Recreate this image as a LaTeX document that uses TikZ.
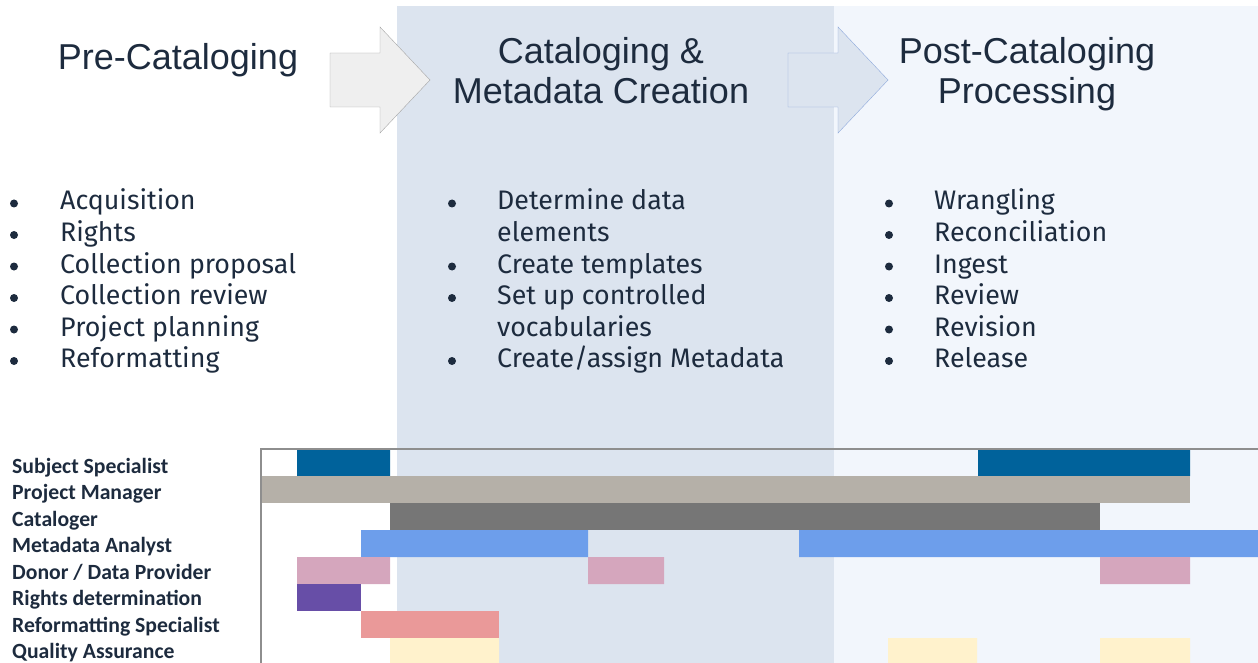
\documentclass[tikz,border=0pt]{standalone}
\usepackage{fontspec}
\setmainfont{Fira Sans}
\newfontfamily\headfont{Liberation Sans}
\newfontfamily\rolefont{Carlito}
\usetikzlibrary{positioning}
\definecolor{Ink}{RGB}{29, 43, 62}
\definecolor{MidPanel}{RGB}{220, 228, 239}
\definecolor{PostPanel}{RGB}{242, 246, 252}
\definecolor{ArrowFill}{RGB}{239, 239, 239}
\definecolor{ArrowLine}{RGB}{166, 166, 166}
\definecolor{ArrowBlue}{RGB}{143, 170, 220}
\definecolor{FrameLine}{RGB}{142, 142, 142}
\definecolor{SpecBlue}{RGB}{0, 98, 155}
\definecolor{ManagerTaupe}{RGB}{181, 176, 168}
\definecolor{CatGrey}{RGB}{118, 118, 118}
\definecolor{AnalystBlue}{RGB}{109, 158, 235}
\definecolor{DonorPink}{RGB}{213, 166, 189}
\definecolor{RightsPurple}{RGB}{103, 78, 167}
\definecolor{ReformRed}{RGB}{234, 153, 153}
\definecolor{QAYellow}{RGB}{255, 242, 204}

\begin{document}
\begin{tikzpicture}[x=1pt, y=-1pt,
    head/.style={anchor=base, align=center, inner sep=0pt, text=Ink, font=\headfont\fontsize{36}{40}\selectfont},
    item/.style={anchor=base west, inner sep=0pt, text=Ink, font=\fontsize{26.8}{31.5}\selectfont},
    role/.style={anchor=base west, inner sep=0pt, text=Ink, font=\rolefont\bfseries\fontsize{21.7}{26}\selectfont},
    dot/.style={fill=Ink}]
    %%Background
    \useasboundingbox (0,0) rectangle (1258,663);
    \fill[MidPanel] (397,6) rectangle (834,663);
    \fill[PostPanel] (834,6) rectangle (1258,663);

    %% Phase arrows
    \draw[ArrowLine, fill=ArrowFill]
    (330,53) -- (380,53) -- (380,27) -- (430,80) -- (380,133) -- (380,107) -- (330,107) -- cycle;
    \draw[ArrowBlue, fill=MidPanel]
    (788,53) -- (838,53) -- (838,27) -- (888,80) -- (838,133) -- (838,107) -- (788,107) -- cycle;

    %% Headings (base = last line)
    \node[head] (pre) at (178,70) {Pre-Cataloging};
    \node[head] (cat) at (601,104) {Cataloging \&\\Metadata Creation};
    \node[head] (post) at (1027,104) {Post-Cataloging\\Processing};

    %% Pre-cataloging tasks
    \node[item] (acq) at (60,210) {Acquisition};
    \node[item] (rights) at (60,241.5) {Rights};
    \node[item] (proposal) at (60,273) {Collection proposal};
    \node[item] (colrev) at (60,304.5) {Collection review};
    \node[item] (planning) at (60,336) {Project planning};
    \node[item] (reform) at (60,367.5) {Reformatting};
    \fill[dot]
    (14,203.5) circle (4) (14,235) circle (4) (14,266.5) circle (4)
    (14,298) circle (4) (14,329.5) circle (4) (14,361) circle (4);

    %% Cataloging tasks
    \node[item] (determine) at (497,210) {Determine data};
    \node[item] (elements) at (497,241.5) {elements};
    \node[item] (templates) at (497,273) {Create templates};
    \node[item] (setup) at (497,304.5) {Set up controlled};
    \node[item] (vocab) at (497,336) {vocabularies};
    \node[item] (assign) at (497,367.5) {Create/assign Metadata};
    \fill[dot]
    (452,203.5) circle (4) (452,266.5) circle (4)
    (452,298) circle (4) (452,361) circle (4);

    %% Post-cataloging tasks
    \node[item] (wrangle) at (934,210) {Wrangling};
    \node[item] (reconcile) at (934,241.5) {Reconciliation};
    \node[item] (ingest) at (934,273) {Ingest};
    \node[item] (review) at (934,304.5) {Review};
    \node[item] (revision) at (934,336) {Revision};
    \node[item] (release) at (934,367.5) {Release};
    \fill[dot]
    (889,203.5) circle (4) (889,235) circle (4) (889,266.5) circle (4)
    (889,298) circle (4) (889,329.5) circle (4) (889,361) circle (4);

    %% Roles
    \node[role] (specialist) at (12,473) {Subject Specialist};
    \node[role] (manager) at (12,499.5) {Project Manager};
    \node[role] (cataloger) at (12,526) {Cataloger};
    \node[role] (analyst) at (12,552.5) {Metadata Analyst};
    \node[role] (donor) at (12,579) {Donor / Data Provider};
    \node[role] (rightsdet) at (12,605.5) {Rights determination};
    \node[role] (reformspec) at (12,632) {Reformatting Specialist};
    \node[role] (qa) at (12,658.5) {Quality Assurance};

    %% Bars
    \fill[SpecBlue] (297,449) rectangle (390,476) (978,449) rectangle (1190,476);
    \fill[ManagerTaupe] (261,476) rectangle (1190,503);
    \fill[CatGrey] (390,503) rectangle (1100,530);
    \fill[AnalystBlue] (361,530) rectangle (588,557) (799,530) rectangle (1258,557);
    \fill[DonorPink] (297,557) rectangle (390,584) (588,557) rectangle (664,584)
    (1100,557) rectangle (1190,584);
    \fill[RightsPurple] (297,584) rectangle (361,611);
    \fill[ReformRed] (361,611) rectangle (499,638);
    \fill[QAYellow] (390,638) rectangle (499,663) (888,638) rectangle (977,663)
    (1100,638) rectangle (1190,663);

    %% Frame
    \draw[FrameLine, line width=1.3] (261,663) -- (261,449) -- (1258,449);
\end{tikzpicture}
\end{document}
